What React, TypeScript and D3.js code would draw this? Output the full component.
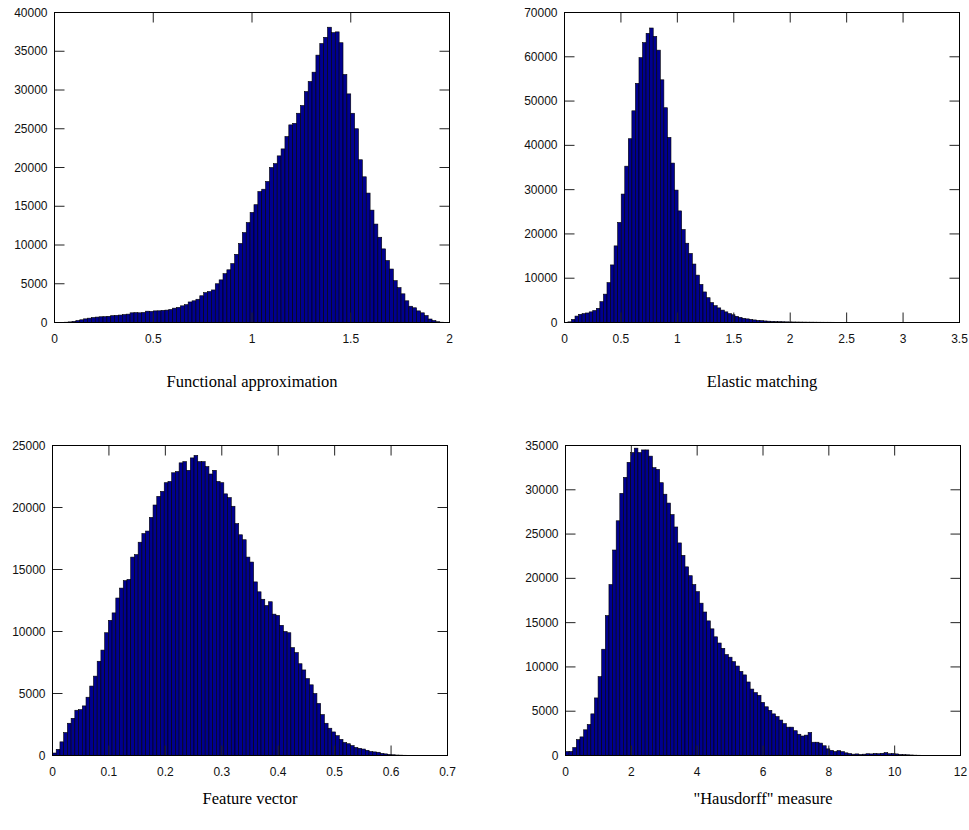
import * as d3 from "d3";

// ---- Functional approximation: 100 bins over [0.03, 1.99]
const funcApproxRange = [0.03, 1.99];
const funcApproxCounts = [
  20, 40, 80, 150, 250, 350, 470, 560, 640, 700,
  740, 750, 800, 880, 920, 960, 1020, 1080, 1250, 1270,
  1250, 1300, 1460, 1430, 1500, 1510, 1560, 1600, 1680, 1850,
  1950, 2150, 2300, 2650, 2800, 3000, 3450, 3850, 4000, 4200,
  5000, 5500, 6300, 6800, 7600, 8800, 10200, 11600, 12900, 14200,
  15200, 16900, 17200, 18200, 20000, 20500, 21500, 22400, 24000, 25500,
  25700, 27000, 28000, 29800, 31100, 32300, 34500, 36000, 36800, 38100,
  37400, 37500, 36100, 32000, 29500, 27000, 25000, 21000, 18800, 16700,
  14500, 12700, 11000, 9500, 8000, 6900, 5400, 4500, 3700, 2800,
  2100, 1900, 1500, 1250, 900, 450, 250, 100, 40, 10,
];
const funcApproxXTicks = [0, 0.5, 1, 1.5, 2];
const funcApproxYTicks = [0, 5000, 10000, 15000, 20000, 25000, 30000, 35000, 40000];

// ---- Elastic matching: 100 bins over [0.03, 3.18]
const elasticRange = [0.03, 3.18];
const elasticCounts = [
  150, 700, 1450, 1850, 2000, 2150, 2400, 2700, 3200, 4700,
  6400, 9000, 13000, 17300, 22600, 29000, 35300, 41500, 47800, 54000,
  59800, 63200, 65300, 66500, 64600, 61500, 54800, 48500, 41800, 36000,
  29900, 25200, 21000, 17900, 15600, 13200, 10700, 8600, 6900, 5600,
  4500, 3800, 3300, 2800, 2400, 2000, 1750, 1400, 1150, 950,
  820, 700, 580, 480, 420, 350, 300, 260, 220, 200,
  170, 150, 130, 120, 110, 100, 90, 80, 80, 70,
  65, 60, 55, 55, 50, 45, 45, 40, 40, 35,
  35, 30, 30, 28, 25, 25, 22, 20, 20, 18,
  15, 15, 12, 12, 10, 10, 8, 8, 5, 5,
];
const elasticXTicks = [0, 0.5, 1, 1.5, 2, 2.5, 3, 3.5];
const elasticYTicks = [0, 10000, 20000, 30000, 40000, 50000, 60000, 70000];

// ---- Feature vector: 100 bins over [0, 0.66]
const featureRange = [0, 0.66];
const featureCounts = [
  200, 500, 1100, 1850, 2600, 3000, 3650, 3700, 4000, 4700,
  5600, 6400, 7600, 8500, 9900, 10900, 11500, 12700, 13500, 14100,
  14200, 16000, 16200, 17200, 17900, 18100, 19200, 20200, 20900, 21300,
  22000, 22100, 22800, 22900, 23600, 23700, 23000, 24000, 24200, 23700,
  23700, 23300, 22700, 23000, 22100, 22000, 21100, 20800, 20100, 18700,
  17800, 17400, 16000, 15600, 14000, 13200, 12600, 12100, 12400, 11400,
  11300, 10500, 10000, 9900, 8700, 8300, 7400, 6900, 6200, 5700,
  5000, 4200, 3300, 2600, 2200, 1900, 1600, 1300, 1050, 950,
  800, 650, 580, 520, 420, 320, 290, 260, 170, 130,
  90, 60, 40, 30, 20, 15, 10, 8, 5, 3,
];
const featureXTicks = [0, 0.1, 0.2, 0.3, 0.4, 0.5, 0.6, 0.7];
const featureYTicks = [0, 5000, 10000, 15000, 20000, 25000];

// ---- "Hausdorff" measure: 100 bins over [0, 11]
const hausdorffRange = [0, 11];
const hausdorffCounts = [
  450, 450, 900, 1800, 2100, 2900, 3500, 4700, 6500, 8900,
  12000, 15800, 19300, 23200, 26500, 29600, 31400, 33100, 34200, 34700,
  34200, 34500, 34500, 33800, 32500, 32300, 30800, 29500, 28500, 27200,
  25800, 24000, 22600, 21300, 20300, 19300, 18500, 17200, 16200, 15200,
  14300, 13400, 12700, 12100, 11400, 11100, 10600, 10100, 9500, 9100,
  8300, 7500, 7100, 6800, 6000, 5500, 5100, 4700, 4400, 4000,
  3600, 3200, 3200, 2800, 2400, 2200, 2300, 2600, 1500, 1500,
  1400, 1100, 750, 580, 450, 550, 430, 300, 220, 150,
  180, 120, 150, 200, 180, 230, 200, 250, 320, 200,
  230, 180, 120, 100, 80, 60, 40, 30, 20, 10,
];
const hausdorffXTicks = [0, 2, 4, 6, 8, 10, 12];
const hausdorffYTicks = [0, 5000, 10000, 15000, 20000, 25000, 30000, 35000];

const PLOT_W = 395;
const PLOT_H = 310;
const TICK = 10;

type HistProps = {
  left: number;
  top: number;
  titleY: number;
  title: string;
  counts: number[];
  range: number[];
  xTicks: number[];
  yTicks: number[];
};

function Histogram({ left, top, titleY, title, counts, range, xTicks, yTicks }: HistProps) {
  const xScale = d3
    .scaleLinear()
    .domain([xTicks[0], xTicks[xTicks.length - 1]])
    .range([0, PLOT_W]);
  const yScale = d3
    .scaleLinear()
    .domain([0, yTicks[yTicks.length - 1]])
    .range([PLOT_H, 0]);
  const binW = (range[1] - range[0]) / counts.length;

  return (
    <g transform={`translate(${left},${top})`}>
      {counts.map((v, i) => {
        if (v <= 0) return null;
        const x0 = xScale(range[0] + i * binW);
        const x1 = xScale(range[0] + (i + 1) * binW);
        return (
          <rect
            key={i}
            x={x0}
            y={yScale(v)}
            width={x1 - x0}
            height={PLOT_H - yScale(v)}
            fill="#00008F"
            stroke="#000"
            strokeWidth={0.6}
          />
        );
      })}
      {xTicks.map((t, i) => (
        <g key={"x" + i}>
          <line x1={xScale(t)} x2={xScale(t)} y1={PLOT_H} y2={PLOT_H - TICK} stroke="#222" />
          <line x1={xScale(t)} x2={xScale(t)} y1={0} y2={TICK} stroke="#222" />
          <text
            x={xScale(t)}
            y={PLOT_H + 20}
            fontSize={12}
            fontFamily="Liberation Sans, Arial, sans-serif"
            textAnchor="middle"
            fill="#111"
          >
            {t}
          </text>
        </g>
      ))}
      {yTicks.map((t, i) => (
        <g key={"y" + i}>
          <line x1={0} x2={TICK} y1={yScale(t)} y2={yScale(t)} stroke="#222" />
          <line x1={PLOT_W} x2={PLOT_W - TICK} y1={yScale(t)} y2={yScale(t)} stroke="#222" />
          <text
            x={-7}
            y={yScale(t) + 4}
            fontSize={12}
            fontFamily="Liberation Sans, Arial, sans-serif"
            textAnchor="end"
            fill="#111"
          >
            {t}
          </text>
        </g>
      ))}
      <rect x={0} y={0} width={PLOT_W} height={PLOT_H} fill="none" stroke="#000" strokeWidth={1} />
      <text
        x={PLOT_W / 2}
        y={titleY}
        fontSize={16.5}
        fontFamily="Liberation Serif, Times New Roman, serif"
        textAnchor="middle"
        fill="#000"
      >
        {title}
      </text>
    </g>
  );
}

export default function App() {
  return (
    <svg
      width={969}
      height={830}
      style={{ position: "absolute", left: 0, top: 0, background: "#fff" }}
    >
      <Histogram
        left={54.5}
        top={12.5}
        titleY={374}
        title="Functional approximation"
        counts={funcApproxCounts}
        range={funcApproxRange}
        xTicks={funcApproxXTicks}
        yTicks={funcApproxYTicks}
      />
      <Histogram
        left={564.5}
        top={12.5}
        titleY={374}
        title="Elastic matching"
        counts={elasticCounts}
        range={elasticRange}
        xTicks={elasticXTicks}
        yTicks={elasticYTicks}
      />
      <Histogram
        left={52.5}
        top={445.5}
        titleY={358}
        title="Feature vector"
        counts={featureCounts}
        range={featureRange}
        xTicks={featureXTicks}
        yTicks={featureYTicks}
      />
      <Histogram
        left={565.5}
        top={445.5}
        titleY={358}
        title={'"Hausdorff" measure'}
        counts={hausdorffCounts}
        range={hausdorffRange}
        xTicks={hausdorffXTicks}
        yTicks={hausdorffYTicks}
      />
    </svg>
  );
}
